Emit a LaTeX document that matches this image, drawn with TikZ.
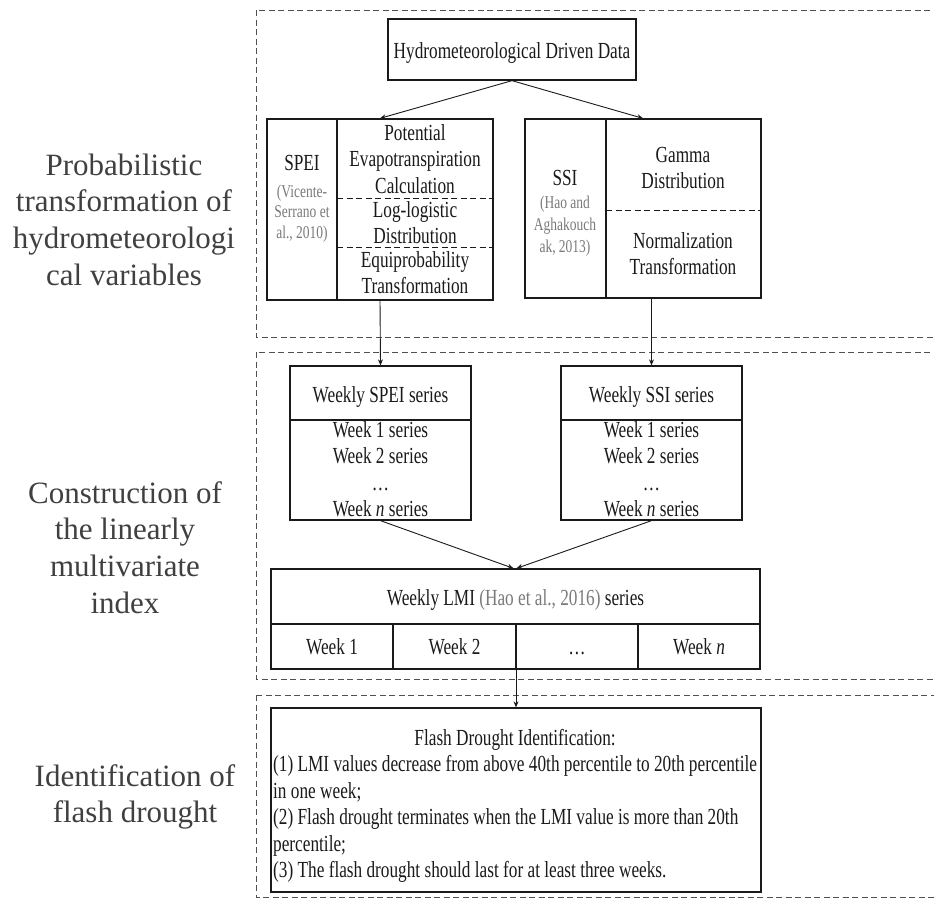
\documentclass[tikz,border=0pt]{standalone}
\usepackage{fontspec}
\setmainfont{Liberation Serif}[FakeStretch=0.75]
\newfontfamily\labelfont{Liberation Serif}
\usetikzlibrary{arrows.meta}
\definecolor{ink}{HTML}{1A1A1A}
\definecolor{labelgray}{HTML}{404040}
\definecolor{citegray}{HTML}{7A7A7A}
\definecolor{panelgray}{HTML}{505050}
\newcommand\mlines[1]{\begin{tabular}[t]{@{}c@{}}#1\end{tabular}}
\tikzset{
  panel/.style={draw=panelgray, line width=0.9pt, dash pattern=on 6pt off 3.5pt},
  box/.style={draw=ink, line width=1.3pt, rectangle, inner sep=0pt},
  divider/.style={draw=ink, line width=1.1pt},
  dashdiv/.style={draw=ink, line width=1pt, dash pattern=on 6pt off 3.5pt},
  conn/.style={draw=ink, line width=0.9pt, -{Stealth[length=6pt,width=5pt]}},
  txt/.style={inner sep=0pt, anchor=base, text=ink, font=\fontsize{23}{26.5}\selectfont},
  cite/.style={inner sep=0pt, anchor=base, text=citegray, font=\fontsize{18}{21}\selectfont},
  sidelabel/.style={inner sep=0pt, anchor=base, text=labelgray, font=\labelfont\fontsize{31}{36.7}\selectfont},
}
\begin{document}
\begin{tikzpicture}[x=1pt, y=-1pt]
\useasboundingbox (0,0) rectangle (934,898);
\fill[white] (0,0) rectangle (934,898);
% panels
\draw[panel] (256,10) rectangle (950,337);
\draw[panel] (256,352) rectangle (950,679);
\draw[panel] (256,695) rectangle (950,897);
% side labels
\node[sidelabel] (lab1) at (124,175) {\mlines{Probabilistic\\transformation of\\hydrometeorologi\\cal variables}};
\node[sidelabel] (lab2) at (125,503) {\mlines{Construction of\\the linearly\\multivariate\\index}};
\node[sidelabel] (lab3) at (135,786) {\mlines{Identification of\\flash drought}};
% top box
\node[box, minimum width=248pt, minimum height=61pt] (hydro) at (512,49.5) {};
\node[txt] (hydrot) at (512,58) {Hydrometeorological Driven Data};
% SPEI box
\node[box, minimum width=226pt, minimum height=181pt] (spei) at (380,209.5) {};
\draw[divider] (337,119) -- (337,300);
\draw[dashdiv] (337,198) -- (493,198);
\draw[dashdiv] (337,247) -- (493,247);
\node[txt] (speit) at (302,170) {SPEI};
\node[cite] (speic) at (302,197) {\fontsize{18}{20.5}\selectfont\mlines{(Vicente-\\Serrano et\\al., 2010)}};
\node[txt] (pet) at (415,140) {\mlines{Potential\\Evapotranspiration\\Calculation}};
\node[txt] (llt) at (415,217) {\mlines{Log-logistic\\Distribution}};
\node[txt] (eqt) at (415,267) {\mlines{Equiprobability\\Transformation}};
% SSI box
\node[box, minimum width=236pt, minimum height=179pt] (ssi) at (643,208.5) {};
\draw[divider] (606,119) -- (606,298);
\draw[dashdiv] (606,210) -- (761,210);
\node[txt] (ssit) at (565,185) {SSI};
\node[cite] (ssic) at (565,208) {\fontsize{18}{22}\selectfont\mlines{(Hao and\\Aghakouch\\ak, 2013)}};
\node[txt] (gdt) at (683,162) {\mlines{Gamma\\Distribution}};
\node[txt] (ntt) at (683,248) {\mlines{Normalization\\Transformation}};
% weekly SPEI
\node[box, minimum width=181pt, minimum height=154pt] (wspei) at (380.5,443) {};
\draw[divider] (290,420) -- (471,420);
\node[txt] (wspeit) at (380.5,402) {Weekly SPEI series};
\node[txt] (wspeil) at (380.5,437) {\mlines{Week 1 series\\Week 2 series\\…\\Week \textit{n} series}};
% weekly SSI
\node[box, minimum width=181pt, minimum height=154pt] (wssi) at (651.5,443) {};
\draw[divider] (561,420) -- (742,420);
\node[txt] (wssit) at (651.5,402) {Weekly SSI series};
\node[txt] (wssil) at (651.5,437) {\mlines{Week 1 series\\Week 2 series\\…\\Week \textit{n} series}};
% LMI
\node[box, minimum width=489pt, minimum height=100pt] (lmi) at (515.5,619) {};
\draw[divider] (271,624) -- (760,624);
\draw[divider] (393,624) -- (393,669);
\draw[divider] (516,624) -- (516,669);
\draw[divider] (638,624) -- (638,669);
\node[txt] (lmit) at (515.5,605) {Weekly LMI {\color{citegray}(Hao et al., 2016)} series};
\node[txt] (w1) at (332,654) {Week 1};
\node[txt] (w2) at (454.5,654) {Week 2};
\node[txt] (wd) at (577,654) {…};
\node[txt] (wn) at (699,654) {Week \textit{n}};
% flash
\node[box, minimum width=490pt, minimum height=184pt] (flash) at (516,800) {};
\node[txt, anchor=base west] (flasht) at (273,745) {\begin{tabular}[t]{@{}l@{}}\multicolumn{1}{@{}c@{}}{Flash Drought Identification:}\\(1) LMI values decrease from above 40th percentile to 20th percentile\\in one week;\\(2) Flash drought terminates when the LMI value is more than 20th\\percentile;\\(3) The flash drought should last for at least three weeks.\end{tabular}};
% connectors
\draw[conn] (hydro.south) -- (spei.north);
\draw[conn] (hydro.south) -- (ssi.north);
\draw[conn] (spei.south) -- (wspei.north);
\draw[conn] (ssi.south -| wssi.north) -- (wssi.north);
\coordinate (lmiL) at ([xshift=-2pt]lmi.north);
\coordinate (lmiR) at ([xshift=1pt]lmi.north);
\draw[conn] (wspei.south) -- (lmiL);
\draw[conn] (wssi.south) -- (lmiR);
\draw[conn] (lmi.south -| flash.north) -- (flash.north);
\end{tikzpicture}
\end{document}
